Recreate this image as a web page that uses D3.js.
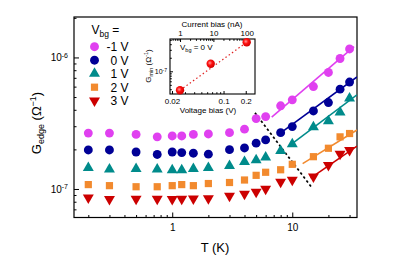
<!DOCTYPE html>
<html>
<head>
<meta charset="utf-8">
<script src="https://cdn.jsdelivr.net/npm/d3@7"></script>
<style>
  body { margin: 0; background: #fff; }
  svg { font-family: "Liberation Sans", Arial, sans-serif; }
  .axis path { display: none; }
  .axis line { stroke: #000; stroke-width: 1; }
  .axis text { font-size: 10px; fill: #000; }
</style>
</head>
<body>
<div id="chart"></div>
<script>
// temperatures (K) shared by all gate voltages
var temps = [0.2, 0.3, 0.5, 0.75, 1, 1.2, 1.5, 2, 3, 4, 5, 6, 8, 10, 15, 20, 25, 30];

// edge conductance (1/Ohm) per back-gate voltage
var gMinus1 = [2.66e-7, 2.66e-7, 2.60e-7, 2.49e-7, 2.53e-7, 2.53e-7, 2.60e-7, 2.62e-7, 2.68e-7, 2.85e-7, 3.43e-7, 3.55e-7, 4.29e-7, 4.76e-7, 6.01e-7, 7.69e-7, 9.82e-7, 1.16e-6];
var gZero   = [1.98e-7, 1.98e-7, 1.91e-7, 1.83e-7, 1.91e-7, 1.89e-7, 1.87e-7, 1.84e-7, 1.99e-7, 2.05e-7, 2.23e-7, 2.36e-7, 2.68e-7, 2.98e-7, 3.92e-7, 4.54e-7, 5.74e-7, 6.50e-7];
var gOne    = [1.45e-7, 1.41e-7, 1.42e-7, 1.41e-7, 1.39e-7, 1.39e-7, 1.42e-7, 1.45e-7, 1.50e-7, 1.61e-7, 1.66e-7, 1.74e-7, 1.95e-7, 2.19e-7, 2.96e-7, 3.28e-7, 3.83e-7, 4.88e-7];
var gTwo    = [1.08e-7, 1.06e-7, 1.04e-7, 1.04e-7, 1.06e-7, 1.08e-7, 1.06e-7, 1.10e-7, 1.12e-7, 1.17e-7, 1.27e-7, 1.34e-7, 1.40e-7, 1.54e-7, 1.76e-7, 2.04e-7, 2.49e-7, 2.64e-7];
var gThree  = [8.59e-8, 8.35e-8, 8.39e-8, 8.39e-8, 8.35e-8, 8.42e-8, 8.44e-8, 8.49e-8, 8.85e-8, 9.16e-8, 9.49e-8, 1.00e-7, 1.13e-7, 1.17e-7, 1.24e-7, 1.52e-7, 1.85e-7, 1.97e-7];

// power-law fits (start / end points)
var fitT = [[6.74, 32.7], [8.06, 34.6], [9.3, 34.6], [12.2, 34.6], [14.2, 34.6]];
var fitG = [[3.52e-7, 1.21e-6], [2.68e-7, 7.10e-7], [2.11e-7, 5.2e-7], [1.56e-7, 2.81e-7], [1.21e-7, 2.12e-7]];

// crossover guide line
var guideT = [4.89, 14.6];
var guideG = [3.79e-7, 1.02e-7];

var labels = ["-1 V", "0 V", "1 V", "2 V", "3 V"];
var colors = ["#e040f0", "#000096", "#008b8b", "#f28a2e", "#cc0000"];

// inset: G_min vs bias
var insetV = [0.0257, 0.067, 0.206];
var insetG = [3.78e-8, 1.47e-7, 4.41e-7];
var insetFitV = [0.0257, 0.206];
var insetFitG = [3.78e-8, 4.41e-7];
var currentTicks = [1, 10, 100];
var voltTicks = [0.02, 0.1, 0.2];

var series = [gMinus1, gZero, gOne, gTwo, gThree];

var W = 415, H = 257;
var margin = {top: 17, right: 58, bottom: 39.5, left: 74};
var width = W - margin.left - margin.right;
var height = H - margin.top - margin.bottom;

var svg = d3.select('#chart').
append('svg').
attr('width', W).
attr('height', H);

var g = svg.append('g').
attr('transform', 'translate(' + margin.left + ',' + margin.top + ')');

var x = d3.scaleLog().domain([0.152, 34.6]).range([0, width]);
var y = d3.scaleLog().domain([6.07e-8, 2.03e-6]).range([height, 0]);

// marker shapes
var sym = [
    d3.symbol().type(d3.symbolCircle).size(62),
    d3.symbol().type(d3.symbolCircle).size(62),
    d3.symbol().type(d3.symbolTriangle).size(52),
    d3.symbol().type(d3.symbolSquare).size(52),
    d3.symbol().type(d3.symbolTriangle).size(52)
];
var rot = [0, 0, 0, 0, 180];

function minorTicks(lo, hi) {
    var out = [];
    for (var e = lo; e <= hi; e++) {
        for (var m = 2; m <= 9; m++) out.push(m * Math.pow(10, e));
    }
    return out;
}

// x axis
var xMinor = minorTicks(-1, 1).filter(function(v) { return v > 0.152 && v < 34.6; });
g.append('g').attr('class', 'axis').
attr('transform', 'translate(0,' + height + ')').
call(d3.axisBottom(x).tickValues(xMinor).tickSize(-2.5).tickFormat(''));
g.append('g').attr('class', 'axis').
attr('transform', 'translate(0,' + height + ')').
call(d3.axisBottom(x).tickValues([1, 10]).tickSize(-5).tickPadding(6).tickFormat(d3.format('d')));

// y axis
var yMinor = minorTicks(-8, -6).filter(function(v) { return v > 6.07e-8 && v < 2.03e-6; });
g.append('g').attr('class', 'axis').
call(d3.axisLeft(y).tickValues(yMinor).tickSize(-2.5).tickFormat(''));
var yMaj = g.append('g').attr('class', 'axis').
call(d3.axisLeft(y).tickValues([1e-7, 1e-6]).tickSize(-5).tickPadding(6).tickFormat(''));
yMaj.selectAll('.tick text').each(function(d) {
    var t = d3.select(this).attr('dy', '0.35em');
    t.append('tspan').text('10');
    t.append('tspan').attr('dy', '-0.5em').style('font-size', '7px').text(Math.round(Math.log10(d)));
});

// frame
g.append('rect').
attr('width', width).
attr('height', height).
attr('fill', 'none').
attr('stroke', '#000').
attr('stroke-width', 1.2);

// clip for fit lines
g.append('clipPath').attr('id', 'clip').
append('rect').attr('width', width).attr('height', height);

var line = d3.line().
x(function(d) { return x(d[0]); }).
y(function(d) { return y(d[1]); });

fitT.forEach(function(ts, i) {
    g.append('path').
    attr('clip-path', 'url(#clip)').
    attr('d', line(ts.map(function(t, j) { return [t, fitG[i][j]]; }))).
    attr('fill', 'none').
    attr('stroke', colors[i]).
    attr('stroke-width', 1.6);
});

g.append('path').
attr('d', line(guideT.map(function(t, j) { return [t, guideG[j]]; }))).
attr('fill', 'none').
attr('stroke', '#000').
attr('stroke-width', 1.7).
attr('stroke-dasharray', '2.5,2.5');

series.forEach(function(vals, i) {
    g.selectAll('.pt' + i).
    data(vals).
    enter().append('path').
    attr('class', 'pt' + i).
    attr('d', sym[i]).
    attr('transform', function(d, j) {
        return 'translate(' + x(temps[j]) + ',' + y(d) + ') rotate(' + rot[i] + ')';
    }).
    attr('fill', colors[i]);
});

// legend
var leg = svg.append('g').attr('transform', 'translate(91.5,34)');
var vt = leg.append('text').style('font-size', '12px');
vt.append('tspan').text('V');
vt.append('tspan').attr('dy', 3).style('font-size', '8.5px').text('bg');
vt.append('tspan').attr('dy', -3).text(' =');
labels.forEach(function(l, i) {
    var ly = 12.7 + i * 13.5;
    leg.append('path').
    attr('d', sym[i]).
    attr('transform', 'translate(3,' + ly + ') rotate(' + rot[i] + ')').
    attr('fill', colors[i]);
    leg.append('text').
    attr('x', 37).
    attr('y', ly + 4.3).
    attr('text-anchor', 'end').
    style('font-size', '12px').
    text(l);
});

// axis titles
svg.append('text').
attr('x', 215).
attr('y', 252).
attr('text-anchor', 'middle').
style('font-size', '13px').
text('T (K)');

var yl = svg.append('text').
attr('transform', 'translate(41,123) rotate(-90)').
attr('text-anchor', 'middle').
style('font-size', '13px');
yl.append('tspan').text('G');
yl.append('tspan').attr('dy', 3).style('font-size', '9px').text('edge');
yl.append('tspan').attr('dy', -3).text(' (Ω');
yl.append('tspan').attr('dy', -5).style('font-size', '9px').text('−1');
yl.append('tspan').attr('dy', 5).text(')');

// ---- inset ----
var ins = {left: 170, top: 39, w: 85, h: 55};
var ig = svg.append('g').attr('transform', 'translate(' + ins.left + ',' + ins.top + ')');
var ix = d3.scaleLog().domain([0.0188, 0.267]).range([0, ins.w]);
var ixTop = d3.scaleLog().domain([0.5, 177]).range([0, ins.w]);
var iy = d3.scaleLog().domain([3.13e-8, 5.22e-7]).range([ins.h, 0]);

ig.append('rect').attr('width', ins.w).attr('height', ins.h).attr('fill', '#fff');

var ixMinor = minorTicks(-2, -1).filter(function(v) { return v > 0.0188 && v < 0.267 && v != 0.2; });
ig.append('g').attr('class', 'axis').attr('transform', 'translate(0,' + ins.h + ')').
call(d3.axisBottom(ix).tickValues(ixMinor).tickSize(-1.8).tickFormat(''));
var ixb = ig.append('g').attr('class', 'axis').attr('transform', 'translate(0,' + ins.h + ')').
call(d3.axisBottom(ix).tickValues(voltTicks).tickSize(-3).tickPadding(4).tickFormat(function(d) { return String(d); }));
ixb.selectAll('text').style('font-size', '8px');

var itMinor = minorTicks(-1, 2).filter(function(v) { return v > 0.5 && v < 177; });
ig.append('g').attr('class', 'axis').
call(d3.axisTop(ixTop).tickValues(itMinor).tickSize(-1.8).tickFormat(''));
var ixt = ig.append('g').attr('class', 'axis').
call(d3.axisTop(ixTop).tickValues(currentTicks).tickSize(-3).tickPadding(3).tickFormat(d3.format('d')));
ixt.selectAll('text').style('font-size', '8px');

var iyMinor = minorTicks(-8, -7).filter(function(v) { return v > 3.13e-8 && v < 5.22e-7; });
ig.append('g').attr('class', 'axis').
call(d3.axisLeft(iy).tickValues(iyMinor).tickSize(-1.8).tickFormat(''));
var iyl = ig.append('g').attr('class', 'axis').
call(d3.axisLeft(iy).tickValues([1e-7]).tickSize(-3).tickPadding(3).tickFormat(''));
iyl.selectAll('.tick text').each(function(d) {
    var t = d3.select(this).attr('dy', '0.35em').style('font-size', '7px');
    t.append('tspan').text('10');
    t.append('tspan').attr('dy', '-0.5em').style('font-size', '5px').text('-7');
});

ig.append('rect').
attr('width', ins.w).
attr('height', ins.h).
attr('fill', 'none').
attr('stroke', '#000').
attr('stroke-width', 1.1);

var iline = d3.line().
x(function(d) { return ix(d[0]); }).
y(function(d) { return iy(d[1]); });
ig.append('path').
attr('d', iline(insetFitV.map(function(v, j) { return [v, insetFitG[j]]; }))).
attr('fill', 'none').
attr('stroke', '#e02020').
attr('stroke-width', 1.2).
attr('stroke-dasharray', '1.5,2.5');

var grad = svg.append('defs').append('radialGradient').
attr('id', 'ball').attr('cx', '40%').attr('cy', '40%').attr('r', '60%');
grad.append('stop').attr('offset', '0%').attr('stop-color', '#ff9a9a');
grad.append('stop').attr('offset', '45%').attr('stop-color', '#ff1010');
grad.append('stop').attr('offset', '100%').attr('stop-color', '#d00000');

ig.selectAll('.ipt').
data(insetG).
enter().append('circle').
attr('class', 'ipt').
attr('cx', function(d, j) { return ix(insetV[j]); }).
attr('cy', function(d) { return iy(d); }).
attr('r', 4.2).
attr('fill', 'url(#ball)');

var vb = ig.append('text').attr('x', 10).attr('y', 11).style('font-size', '8px');
vb.append('tspan').text('V');
vb.append('tspan').attr('dy', 2).style('font-size', '5.5px').text('bg');
vb.append('tspan').attr('dy', -2).text(' = 0 V');

svg.append('text').
attr('x', 212).
attr('y', 27).
attr('text-anchor', 'middle').
style('font-size', '8px').
text('Current bias (nA)');

svg.append('text').
attr('x', 208).
attr('y', 113).
attr('text-anchor', 'middle').
style('font-size', '8px').
text('Voltage bias (V)');

var gm = svg.append('text').
attr('transform', 'translate(151,66) rotate(-90)').
attr('text-anchor', 'middle').
style('font-size', '8px');
gm.append('tspan').text('G');
gm.append('tspan').attr('dy', 2).style('font-size', '5.5px').text('min');
gm.append('tspan').attr('dy', -2).text(' (Ω');
gm.append('tspan').attr('dy', -3).style('font-size', '5.5px').text('-1');
gm.append('tspan').attr('dy', 3).text(')');
</script>
</body>
</html>
